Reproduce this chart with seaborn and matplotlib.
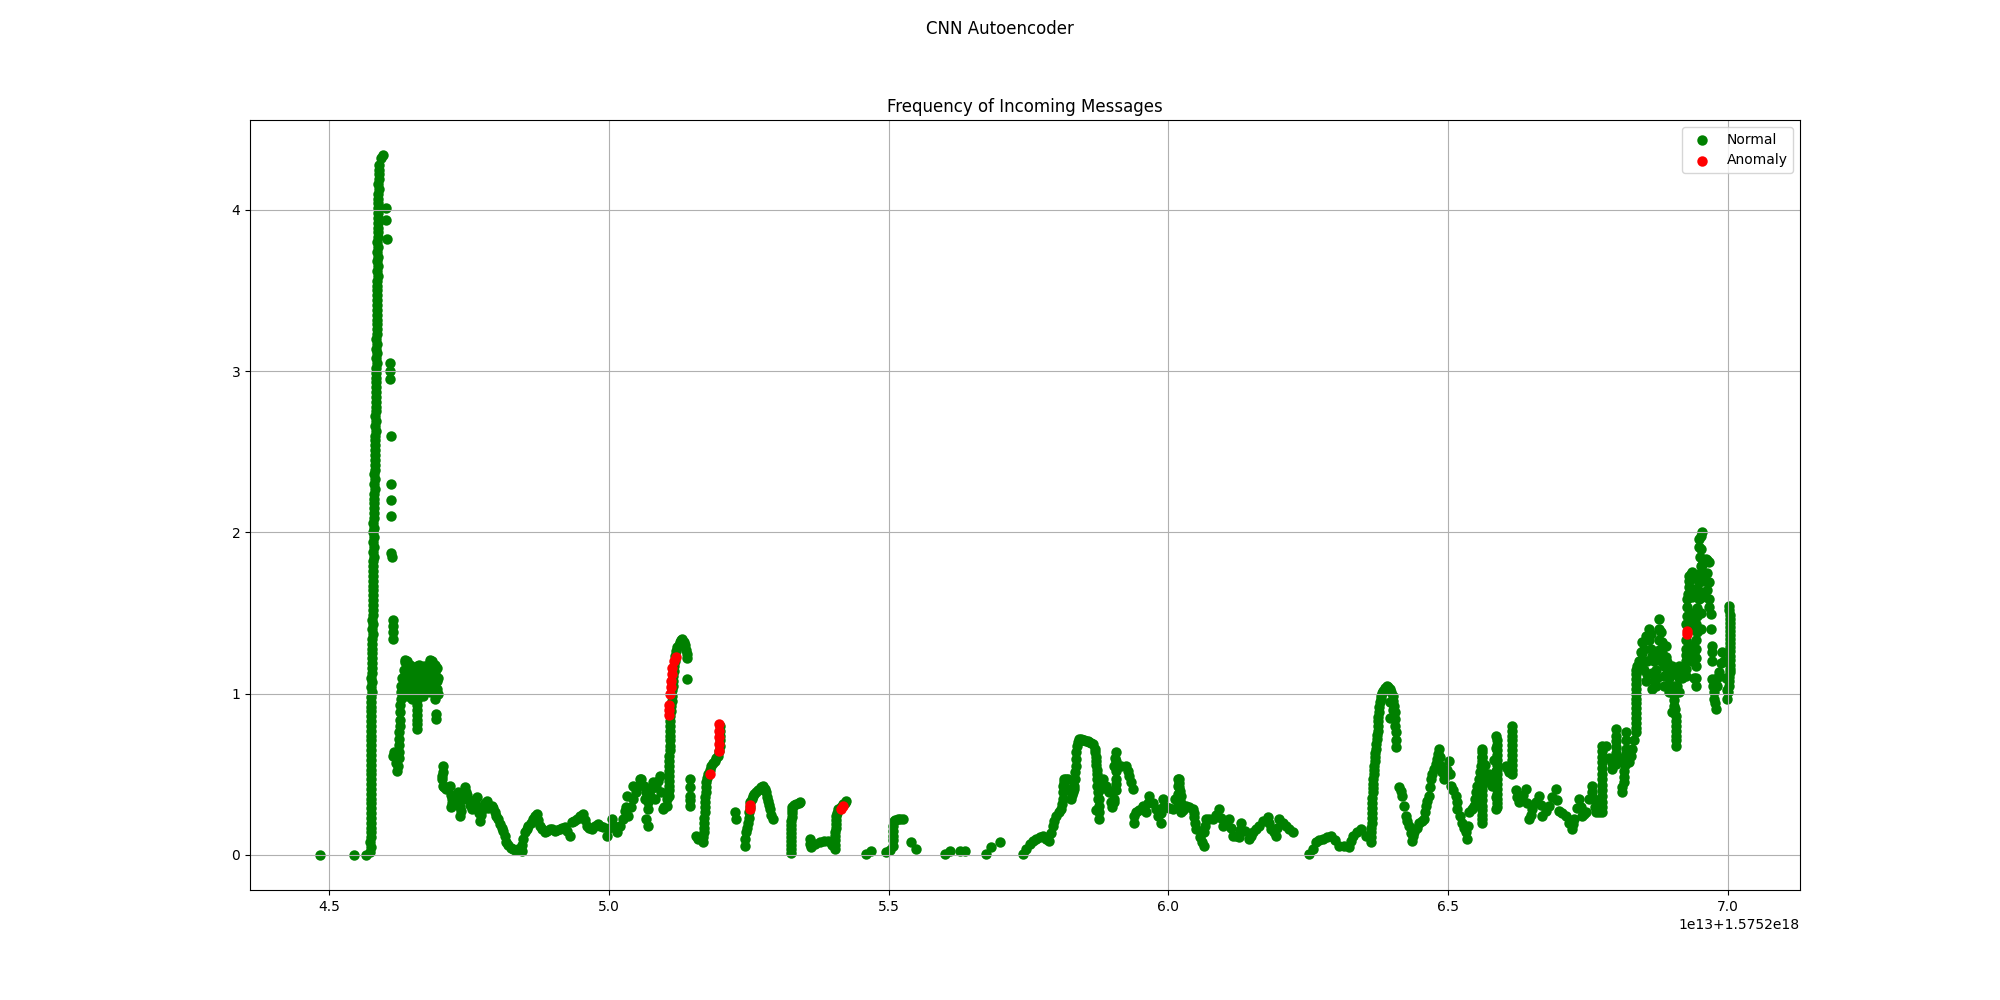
import matplotlib
matplotlib.use("Agg")
import matplotlib.pyplot as plt
import numpy as np
import seaborn as sns

# timestamps are stored as offsets: t = T0 + x * T_SCALE
T0 = 1.5752e18
T_SCALE = 1e13

# main burst around 4.58
spike_x = [4.5738, 4.5739, 4.5740, 4.5740, 4.5741, 4.5742, 4.5742, 4.5743, 4.5744, 4.5744,
           4.5745, 4.5746, 4.5746, 4.5747, 4.5747, 4.5748, 4.5748, 4.5752, 4.5756, 4.5760,
           4.5763, 4.5766, 4.5769, 4.5772, 4.5775, 4.5777, 4.5779, 4.5781, 4.5783, 4.5785,
           4.5786, 4.5788, 4.5789, 4.5790, 4.5793, 4.5796, 4.5799, 4.5802, 4.5805, 4.5808,
           4.5811, 4.5814, 4.5817, 4.5820, 4.5823, 4.5826, 4.5829, 4.5832, 4.5835, 4.5837,
           4.5839, 4.5841, 4.5843, 4.5845, 4.5847, 4.5849, 4.5851, 4.5853, 4.5855, 4.5857,
           4.5859, 4.5861, 4.5862, 4.5864, 4.5865, 4.5867, 4.5868, 4.5870, 4.5874, 4.5878,
           4.5884, 4.5892, 4.5930, 4.5970]
spike_y = [0.02, 0.08, 0.14, 0.20, 0.26, 0.32, 0.38, 0.44, 0.50, 0.56,
           0.62, 0.68, 0.74, 0.80, 0.86, 0.92, 0.98, 1.04, 1.10, 1.16,
           1.22, 1.28, 1.34, 1.40, 1.46, 1.52, 1.58, 1.64, 1.70, 1.76,
           1.82, 1.88, 1.94, 2.00, 2.06, 2.12, 2.18, 2.24, 2.30, 2.36,
           2.42, 2.48, 2.54, 2.60, 2.66, 2.72, 2.78, 2.84, 2.90, 2.96,
           3.02, 3.08, 3.14, 3.20, 3.26, 3.32, 3.38, 3.44, 3.50, 3.56,
           3.62, 3.68, 3.74, 3.80, 3.86, 3.92, 3.98, 4.04, 4.10, 4.16,
           4.22, 4.28, 4.32, 4.34]

# second column of the same burst (slightly later timestamps)
spike2_pts = [
    (4.5746, 0.05), (4.5747, 0.11), (4.5748, 0.17), (4.5748, 0.23), (4.5749, 0.29),
    (4.5750, 0.35), (4.5750, 0.41), (4.5751, 0.47), (4.5752, 0.53), (4.5752, 0.59),
    (4.5753, 0.65), (4.5754, 0.71), (4.5754, 0.77), (4.5755, 0.83), (4.5755, 0.89),
    (4.5756, 0.95), (4.5758, 1.01), (4.5762, 1.07), (4.5766, 1.13), (4.5769, 1.19),
    (4.5772, 1.25), (4.5775, 1.31), (4.5778, 1.37), (4.5781, 1.43), (4.5784, 1.49),
    (4.5786, 1.55), (4.5788, 1.61), (4.5790, 1.67), (4.5792, 1.73), (4.5793, 1.79),
    (4.5795, 1.85), (4.5796, 1.91), (4.5798, 1.97), (4.5800, 2.03), (4.5803, 2.09),
    (4.5806, 2.15), (4.5809, 2.21), (4.5812, 2.27), (4.5815, 2.33), (4.5818, 2.39),
    (4.5821, 2.45), (4.5824, 2.51), (4.5827, 2.57), (4.5830, 2.63), (4.5833, 2.69),
    (4.5836, 2.75), (4.5839, 2.81), (4.5842, 2.87), (4.5844, 2.93), (4.5846, 2.99),
    (4.5848, 3.05), (4.5850, 3.11), (4.5852, 3.17), (4.5854, 3.23), (4.5856, 3.29),
    (4.5858, 3.35), (4.5860, 3.41), (4.5862, 3.47), (4.5864, 3.53), (4.5866, 3.59),
    (4.5868, 3.65), (4.5869, 3.71), (4.5871, 3.77), (4.5872, 3.83), (4.5874, 3.89),
    (4.5875, 3.95), (4.5877, 4.01), (4.5880, 4.07), (4.5884, 4.13), (4.5888, 4.19),
    (4.5893, 4.25),
]

# (x, frequency) pairs for the normal windows
early_pts = [
    (4.4845, 0.00), (4.5452, 0.00), (4.5660, 0.00),
    (4.6020, 4.01), (4.6020, 3.94), (4.6030, 3.82), (4.6080, 3.05), (4.6080, 3.00),
    (4.6080, 2.95), (4.6100, 2.60), (4.6110, 2.30), (4.6110, 2.20), (4.6110, 2.10),
    (4.6110, 1.87), (4.6120, 1.85), (4.6140, 1.46), (4.6140, 1.42), (4.6140, 1.38),
    (4.6140, 1.34),
]

burst_pts = [
    (4.6150, 0.616), (4.6220, 0.523), (4.6238, 0.554), (4.6244, 0.600), (4.6244, 0.636),
    (4.6250, 0.680), (4.6250, 0.719), (4.6256, 0.760), (4.6262, 0.800), (4.6268, 0.840),
    (4.6268, 0.884), (4.6274, 0.930), (4.6280, 0.967), (4.6292, 1.010), (4.6292, 1.050),
    (4.6310, 1.100), (4.6330, 1.150), (4.6357, 1.194), (4.6357, 1.091), (4.6387, 0.988),
    (4.6387, 1.040), (4.6417, 1.174), (4.6446, 1.132), (4.6476, 0.967), (4.6506, 1.050),
    (4.6536, 1.100), (4.6565, 1.174), (4.6595, 1.020), (4.6625, 1.091), (4.6655, 1.163),
    (4.6685, 0.988), (4.6685, 1.050), (4.6714, 1.120), (4.6744, 1.132), (4.6774, 1.060),
    (4.6804, 1.194), (4.6804, 1.010), (4.6833, 1.050), (4.6863, 1.100), (4.6893, 1.132),
    (4.6923, 1.030), (4.6923, 1.080), (4.6923, 1.160), (4.6357, 1.210), (4.6804, 1.210),
    (4.6565, 0.990), (4.6565, 0.930), (4.6571, 0.870), (4.6577, 0.810), (4.6577, 0.780),
    (4.6893, 0.967), (4.6905, 0.874), (4.6911, 0.843),
    (4.6330, 1.000), (4.6330, 1.050), (4.6360, 1.140), (4.6390, 1.200), (4.6400, 1.100),
    (4.6420, 1.020), (4.6450, 1.070), (4.6450, 1.180), (4.6480, 1.120), (4.6500, 1.000),
    (4.6520, 1.160), (4.6540, 1.060), (4.6560, 1.120), (4.6590, 1.070), (4.6600, 1.180),
    (4.6630, 1.030), (4.6640, 1.130), (4.6670, 1.090), (4.6690, 1.170), (4.6710, 1.030),
    (4.6730, 1.080), (4.6760, 1.160), (4.6780, 1.110), (4.6800, 1.050), (4.6820, 1.140),
    (4.6840, 1.200), (4.6860, 1.040), (4.6880, 1.080), (4.6900, 1.180), (4.6940, 1.100),
    (4.6940, 1.000), (4.6565, 0.960), (4.6568, 0.900), (4.6574, 0.840), (4.6190, 0.570),
    (4.6165, 0.640),
    (4.7030, 0.554), (4.7030, 0.512), (4.7018, 0.471), (4.7036, 0.430), (4.7095, 0.410),
    (4.7155, 0.430), (4.7185, 0.296), (4.7196, 0.347), (4.7226, 0.347), (4.7304, 0.388),
    (4.7339, 0.244), (4.7339, 0.300), (4.7429, 0.420), (4.7458, 0.370), (4.7488, 0.347),
    (4.7548, 0.285), (4.7637, 0.357), (4.7667, 0.300), (4.7696, 0.213), (4.7756, 0.306),
    (4.7815, 0.337), (4.7845, 0.290), (4.7905, 0.306), (4.7964, 0.264), (4.8024, 0.223),
    (4.8113, 0.151), (4.8161, 0.079), (4.8292, 0.037), (4.8351, 0.030), (4.8381, 0.037),
    (4.8440, 0.027),
    (4.7024, 0.490), (4.7050, 0.420), (4.7125, 0.420), (4.7170, 0.370), (4.7190, 0.320),
    (4.7250, 0.360), (4.7280, 0.370), (4.7320, 0.320), (4.7360, 0.270), (4.7400, 0.350),
    (4.7440, 0.390), (4.7520, 0.310), (4.7590, 0.320), (4.7610, 0.340), (4.7680, 0.260),
    (4.7720, 0.250), (4.7740, 0.280), (4.7790, 0.320), (4.7870, 0.300), (4.7930, 0.290),
    (4.7990, 0.240), (4.8060, 0.190), (4.8090, 0.170), (4.8135, 0.120), (4.8200, 0.060),
    (4.8250, 0.045), (4.8320, 0.032), (4.8410, 0.030), (4.8455, 0.060),
    (4.8470, 0.100), (4.8500, 0.140), (4.8560, 0.182), (4.8649, 0.223), (4.8708, 0.254),
    (4.8768, 0.182), (4.8857, 0.140), (4.8946, 0.161), (4.9036, 0.151), (4.9125, 0.161),
    (4.9214, 0.172), (4.9304, 0.120), (4.9333, 0.203), (4.9423, 0.223), (4.9542, 0.254),
    (4.9601, 0.182), (4.9690, 0.161), (4.9810, 0.192), (4.9899, 0.172), (4.9958, 0.120),
    (5.0048, 0.223), (5.0137, 0.140), (5.0256, 0.223), (5.0315, 0.300), (5.0321, 0.368),
    (5.0345, 0.244), (5.0435, 0.347), (5.0435, 0.430), (5.0524, 0.430), (5.0554, 0.470),
    (5.0583, 0.471), (5.0672, 0.388), (5.0672, 0.223), (5.0702, 0.285), (5.0702, 0.182),
    (5.0732, 0.368), (5.0792, 0.450), (5.0821, 0.347), (5.0911, 0.492), (5.0940, 0.388),
    (5.0970, 0.285), (5.1030, 0.306), (5.1060, 0.388),
    (4.8530, 0.160), (4.8600, 0.200), (4.8680, 0.240), (4.8730, 0.220), (4.8800, 0.160),
    (4.8900, 0.150), (4.8990, 0.160), (4.9080, 0.155), (4.9170, 0.165), (4.9260, 0.150),
    (4.9370, 0.210), (4.9480, 0.240), (4.9570, 0.220), (4.9650, 0.170), (4.9750, 0.180),
    (4.9850, 0.180), (5.0000, 0.170), (5.0090, 0.180), (5.0200, 0.180), (5.0290, 0.270),
    (5.0390, 0.300), (5.0480, 0.390), (5.0620, 0.430), (5.0640, 0.350), (5.0700, 0.330),
    (5.0760, 0.410), (5.0850, 0.420), (5.0880, 0.460), (5.0990, 0.300), (5.1040, 0.350),
]

mid_pts = [
    (5.1077, 0.368), (5.1077, 0.430), (5.1077, 0.492), (5.1083, 0.554), (5.1083, 0.616),
    (5.1089, 0.678), (5.1089, 0.740), (5.1095, 0.800), (5.1101, 0.864), (5.1119, 0.926),
    (5.1131, 0.988), (5.1143, 1.050), (5.1155, 1.112), (5.1167, 1.174), (5.1185, 1.236),
    (5.1220, 1.287), (5.1268, 1.318), (5.1315, 1.339), (5.1357, 1.300), (5.1399, 1.246),
    (5.1399, 1.091),
    (5.1077, 0.400), (5.1077, 0.460), (5.1080, 0.520), (5.1083, 0.585), (5.1086, 0.650),
    (5.1089, 0.710), (5.1092, 0.770), (5.1098, 0.830), (5.1110, 0.895), (5.1125, 0.957),
    (5.1137, 1.020), (5.1149, 1.080), (5.1161, 1.143), (5.1176, 1.205), (5.1200, 1.262),
    (5.1245, 1.305), (5.1290, 1.330), (5.1340, 1.320), (5.1380, 1.270), (5.1399, 1.220),
    (5.1446, 0.471), (5.1458, 0.368), (5.1446, 0.306), (5.1450, 0.420), (5.1452, 0.340),
    (5.1565, 0.120), (5.1685, 0.079), (5.1697, 0.140), (5.1702, 0.200), (5.1714, 0.264),
    (5.1720, 0.326), (5.1732, 0.388), (5.1744, 0.450), (5.1774, 0.500), (5.1833, 0.554),
    (5.1893, 0.585), (5.1952, 0.616), (5.1994, 0.678), (5.1994, 0.740), (5.1982, 0.800),
    (5.1600, 0.100), (5.1690, 0.110), (5.1700, 0.170), (5.1708, 0.230), (5.1717, 0.295),
    (5.1726, 0.357), (5.1738, 0.420), (5.1760, 0.475), (5.1800, 0.530), (5.1860, 0.570),
    (5.1920, 0.600), (5.1975, 0.647), (5.1994, 0.710), (5.1990, 0.770),
    (5.2250, 0.264), (5.2280, 0.223),
    (5.2429, 0.058), (5.2458, 0.140), (5.2488, 0.200), (5.2506, 0.264), (5.2530, 0.326),
    (5.2577, 0.368), (5.2637, 0.388), (5.2696, 0.410), (5.2756, 0.430), (5.2815, 0.388),
    (5.2845, 0.337), (5.2875, 0.285), (5.2934, 0.223),
    (5.2440, 0.100), (5.2470, 0.170), (5.2497, 0.232), (5.2518, 0.295), (5.2550, 0.350),
    (5.2600, 0.378), (5.2666, 0.400), (5.2726, 0.420), (5.2785, 0.410), (5.2830, 0.360),
    (5.2860, 0.310), (5.2905, 0.250),
    (5.3262, 0.010), (5.3262, 0.060), (5.3262, 0.110), (5.3262, 0.160), (5.3262, 0.210),
    (5.3268, 0.260), (5.3274, 0.300), (5.3351, 0.316), (5.3422, 0.330),
    (5.3262, 0.035), (5.3262, 0.085), (5.3262, 0.135), (5.3262, 0.185), (5.3265, 0.235),
    (5.3271, 0.280), (5.3310, 0.310), (5.3390, 0.325),
    (5.3589, 0.100), (5.3619, 0.048), (5.3768, 0.079), (5.3917, 0.089), (5.4036, 0.037),
    (5.4042, 0.090), (5.4048, 0.140), (5.4054, 0.190), (5.4066, 0.240), (5.4095, 0.285),
    (5.4185, 0.316), (5.4244, 0.337),
    (5.3600, 0.070), (5.3690, 0.070), (5.3840, 0.085), (5.3980, 0.060), (5.4039, 0.065),
    (5.4045, 0.115), (5.4051, 0.165), (5.4060, 0.215), (5.4080, 0.262), (5.4140, 0.300),
    (5.4215, 0.325),
    (5.4601, 0.006), (5.4690, 0.027),
    (5.4958, 0.017), (5.5077, 0.058), (5.5077, 0.120), (5.5077, 0.182), (5.5089, 0.213),
    (5.5167, 0.223), (5.5256, 0.223), (5.5405, 0.079), (5.5494, 0.037),
    (5.5020, 0.030), (5.5077, 0.090), (5.5077, 0.150), (5.5120, 0.220), (5.5210, 0.223),
    (5.5999, 0.006), (5.6089, 0.027), (5.6268, 0.027), (5.6357, 0.027),
    (5.6744, 0.006), (5.6833, 0.048), (5.6982, 0.079),
    (5.7399, 0.006), (5.7518, 0.068), (5.7637, 0.100), (5.7756, 0.120), (5.7875, 0.089),
    (5.7934, 0.182), (5.7994, 0.244), (5.8083, 0.285), (5.8113, 0.347), (5.8113, 0.430),
    (5.8143, 0.471), (5.8202, 0.471), (5.8262, 0.347), (5.8292, 0.388), (5.8321, 0.430),
    (5.8339, 0.512), (5.8351, 0.595), (5.8363, 0.678), (5.8411, 0.719), (5.8470, 0.715),
    (5.8530, 0.709), (5.8589, 0.700), (5.8649, 0.688), (5.8696, 0.636), (5.8708, 0.585),
    (5.8720, 0.530), (5.8720, 0.471), (5.8738, 0.388), (5.8756, 0.306), (5.8768, 0.223),
    (5.7460, 0.035), (5.7580, 0.085), (5.7700, 0.110), (5.7820, 0.100), (5.7905, 0.135),
    (5.7964, 0.213), (5.8040, 0.265), (5.8098, 0.316), (5.8113, 0.390), (5.8128, 0.450),
    (5.8170, 0.471), (5.8232, 0.410), (5.8277, 0.370), (5.8306, 0.410), (5.8330, 0.470),
    (5.8345, 0.553), (5.8357, 0.636), (5.8385, 0.700), (5.8440, 0.717), (5.8500, 0.712),
    (5.8560, 0.705), (5.8620, 0.694), (5.8680, 0.660), (5.8702, 0.610), (5.8714, 0.555),
    (5.8720, 0.500), (5.8729, 0.430), (5.8747, 0.347), (5.8762, 0.265),
    (5.8708, 0.280), (5.8768, 0.400), (5.8768, 0.350), (5.8827, 0.471), (5.8946, 0.388),
    (5.8976, 0.326), (5.9036, 0.554), (5.9036, 0.350), (5.9065, 0.637), (5.9065, 0.580),
    (5.9065, 0.520), (5.9065, 0.471), (5.9065, 0.400), (5.9244, 0.554), (5.9304, 0.492),
    (5.9363, 0.410), (5.9393, 0.200), (5.9423, 0.264), (5.9542, 0.306), (5.9601, 0.264),
    (5.9661, 0.368), (5.9780, 0.285), (5.9869, 0.200), (5.9869, 0.260), (5.9899, 0.347),
    (5.9899, 0.300), (6.0077, 0.285), (6.0167, 0.471), (6.0167, 0.430), (6.0167, 0.380),
    (6.0167, 0.330), (6.0196, 0.290),
    (5.8880, 0.430), (5.8920, 0.400), (5.8990, 0.300), (5.9020, 0.330), (5.9050, 0.600),
    (5.9065, 0.440), (5.9150, 0.550), (5.9274, 0.520), (5.9334, 0.450), (5.9380, 0.240),
    (5.9470, 0.280), (5.9572, 0.285), (5.9631, 0.320), (5.9720, 0.320), (5.9820, 0.240),
    (5.9950, 0.300), (6.0020, 0.290), (6.0120, 0.350),
]

late_pts = [
    (6.0196, 0.471), (6.0196, 0.420), (6.0226, 0.368), (6.0226, 0.264), (6.0315, 0.306),
    (6.0434, 0.285), (6.0464, 0.234), (6.0494, 0.161), (6.0643, 0.058), (6.0643, 0.140),
    (6.0673, 0.223), (6.0792, 0.223), (6.0911, 0.285), (6.0970, 0.180), (6.1089, 0.223),
    (6.1149, 0.120), (6.1268, 0.110), (6.1298, 0.200), (6.1446, 0.100), (6.1506, 0.140),
    (6.1625, 0.180), (6.1774, 0.234), (6.1833, 0.160), (6.1923, 0.120), (6.1982, 0.223),
    (6.2101, 0.180), (6.2220, 0.140),
    (6.0196, 0.445), (6.0211, 0.395), (6.0226, 0.320), (6.0260, 0.280), (6.0370, 0.300),
    (6.0450, 0.260), (6.0480, 0.200), (6.0560, 0.110), (6.0600, 0.080), (6.0658, 0.180),
    (6.0730, 0.223), (6.0850, 0.250), (6.0940, 0.230), (6.1030, 0.200), (6.1120, 0.170),
    (6.1200, 0.115), (6.1283, 0.155), (6.1370, 0.150), (6.1476, 0.120), (6.1566, 0.160),
    (6.1700, 0.210), (6.1800, 0.200), (6.1880, 0.140), (6.1950, 0.170), (6.2040, 0.200),
    (6.2160, 0.160),
    (6.2518, 0.006), (6.2637, 0.079), (6.2756, 0.100), (6.2905, 0.120), (6.3053, 0.058),
    (6.3232, 0.048), (6.3292, 0.120), (6.3440, 0.161), (6.3619, 0.079),
    (6.2578, 0.040), (6.2700, 0.090), (6.2830, 0.110), (6.2980, 0.090), (6.3140, 0.053),
    (6.3262, 0.085), (6.3366, 0.140), (6.3530, 0.120),
    (6.3619, 0.140), (6.3631, 0.200), (6.3637, 0.260), (6.3643, 0.320), (6.3649, 0.388),
    (6.3661, 0.440), (6.3667, 0.500), (6.3679, 0.554), (6.3697, 0.610), (6.3708, 0.660),
    (6.3720, 0.719), (6.3738, 0.770), (6.3750, 0.830), (6.3756, 0.884), (6.3780, 0.946),
    (6.3803, 0.988), (6.3839, 1.019), (6.3899, 1.050), (6.3958, 1.030), (6.4006, 0.988),
    (6.4036, 0.926), (6.4053, 0.843), (6.4065, 0.760), (6.4077, 0.667), (6.3958, 0.950),
    (6.4006, 0.900), (6.3958, 0.850),
    (6.3619, 0.110), (6.3625, 0.170), (6.3634, 0.230), (6.3640, 0.290), (6.3646, 0.354),
    (6.3655, 0.414), (6.3664, 0.470), (6.3673, 0.527), (6.3688, 0.582), (6.3702, 0.635),
    (6.3714, 0.690), (6.3729, 0.745), (6.3744, 0.800), (6.3753, 0.857), (6.3768, 0.915),
    (6.3792, 0.967), (6.3820, 1.003), (6.3869, 1.035), (6.3928, 1.040), (6.3982, 1.010),
    (6.4021, 0.957), (6.4045, 0.885), (6.4059, 0.800), (6.4071, 0.713),
    (6.4125, 0.420), (6.4184, 0.368), (6.4244, 0.244), (6.4303, 0.180), (6.4363, 0.089),
    (6.4393, 0.140), (6.4482, 0.200), (6.4571, 0.223), (6.4601, 0.306), (6.4661, 0.368),
    (6.4690, 0.471), (6.4750, 0.533), (6.4809, 0.595), (6.4839, 0.657), (6.4869, 0.554),
    (6.4928, 0.471), (6.5018, 0.580), (6.5047, 0.430), (6.5137, 0.368), (6.5166, 0.285),
    (6.5256, 0.200), (6.5315, 0.140), (6.5345, 0.099), (6.5375, 0.264), (6.5464, 0.306),
    (6.5494, 0.388), (6.5553, 0.471), (6.5583, 0.554), (6.5613, 0.657), (6.5702, 0.471),
    (6.5791, 0.430), (6.5851, 0.740), (6.5851, 0.595), (6.5851, 0.285),
    (6.4155, 0.394), (6.4214, 0.306), (6.4274, 0.212), (6.4333, 0.135), (6.4378, 0.115),
    (6.4437, 0.170), (6.4527, 0.210), (6.4586, 0.265), (6.4631, 0.337), (6.4675, 0.420),
    (6.4720, 0.500), (6.4780, 0.564), (6.4824, 0.626), (6.4854, 0.605), (6.4898, 0.512),
    (6.4973, 0.525), (6.5032, 0.505), (6.5092, 0.400), (6.5152, 0.326), (6.5211, 0.243),
    (6.5285, 0.170), (6.5360, 0.180), (6.5420, 0.285), (6.5479, 0.347), (6.5524, 0.430),
    (6.5568, 0.512), (6.5598, 0.605), (6.5658, 0.560), (6.5746, 0.450), (6.5821, 0.590),
    (6.5851, 0.665), (6.5851, 0.520), (6.5851, 0.440), (6.5851, 0.360),
]

end_pts = [
    (6.5613, 0.610), (6.5613, 0.554), (6.5613, 0.490), (6.5613, 0.430), (6.5613, 0.370),
    (6.5613, 0.306), (6.5613, 0.250), (6.5613, 0.200), (6.5673, 0.500), (6.5732, 0.500),
    (6.5613, 0.640), (6.5613, 0.580), (6.5613, 0.520), (6.5613, 0.460), (6.5613, 0.400),
    (6.5613, 0.340), (6.5613, 0.280), (6.5613, 0.225),
    (6.5881, 0.680), (6.5881, 0.620), (6.5881, 0.560), (6.5881, 0.500), (6.5881, 0.440),
    (6.5881, 0.380), (6.5881, 0.320), (6.6030, 0.554), (6.6089, 0.512),
    (6.5881, 0.710), (6.5881, 0.650), (6.5881, 0.590), (6.5881, 0.530), (6.5881, 0.470),
    (6.5881, 0.410), (6.5881, 0.350), (6.5881, 0.300),
    (6.6149, 0.800), (6.6149, 0.740), (6.6149, 0.680), (6.6149, 0.620), (6.6149, 0.560),
    (6.6149, 0.500), (6.6149, 0.770), (6.6149, 0.710), (6.6149, 0.650), (6.6149, 0.590),
    (6.6149, 0.530), (6.6090, 0.530), (6.6060, 0.540),
    (6.6268, 0.326), (6.6387, 0.409), (6.6447, 0.223), (6.6506, 0.285), (6.6625, 0.368),
    (6.6685, 0.244), (6.6804, 0.306), (6.6923, 0.409), (6.6982, 0.275), (6.7101, 0.244),
    (6.7220, 0.161), (6.7250, 0.223), (6.7339, 0.347), (6.7399, 0.244), (6.7458, 0.265),
    (6.7577, 0.430), (6.7607, 0.347), (6.7637, 0.265),
    (6.6208, 0.400), (6.6240, 0.360), (6.6330, 0.370), (6.6417, 0.320), (6.6476, 0.250),
    (6.6566, 0.330), (6.6655, 0.310), (6.6745, 0.275), (6.6863, 0.360), (6.6952, 0.340),
    (6.7040, 0.260), (6.7160, 0.200), (6.7235, 0.190), (6.7295, 0.290), (6.7369, 0.300),
    (6.7428, 0.255), (6.7520, 0.350), (6.7577, 0.390), (6.7620, 0.300), (6.7700, 0.265),
    (6.7756, 0.265), (6.7756, 0.330), (6.7756, 0.400), (6.7756, 0.470), (6.7756, 0.540),
    (6.7756, 0.610), (6.7756, 0.678), (6.7816, 0.678), (6.7935, 0.533),
    (6.7756, 0.300), (6.7756, 0.365), (6.7756, 0.435), (6.7756, 0.505), (6.7756, 0.575),
    (6.7756, 0.645),
    (6.7994, 0.600), (6.7994, 0.670), (6.7994, 0.740), (6.7994, 0.781),
    (6.7875, 0.600), (6.7935, 0.570), (6.7994, 0.565), (6.7994, 0.635), (6.7994, 0.705),
    (6.8053, 0.600),
    (6.8113, 0.388), (6.8143, 0.450), (6.8143, 0.520), (6.8173, 0.590), (6.8173, 0.660),
    (6.8173, 0.760), (6.8232, 0.574), (6.8292, 0.657),
    (6.8113, 0.420), (6.8143, 0.485), (6.8158, 0.555), (6.8173, 0.625), (6.8173, 0.710),
    (6.8203, 0.620), (6.8262, 0.615), (6.8322, 0.710),
    (6.8351, 0.760), (6.8351, 0.820), (6.8351, 0.880), (6.8351, 0.940), (6.8351, 1.000),
    (6.8351, 1.060), (6.8351, 1.120), (6.8381, 1.174),
    (6.8351, 0.790), (6.8351, 0.850), (6.8351, 0.910), (6.8351, 0.970), (6.8351, 1.030),
    (6.8351, 1.090), (6.8366, 1.150),
    (6.8470, 1.318), (6.8470, 1.250), (6.8500, 1.150), (6.8530, 1.080), (6.8589, 1.401),
    (6.8589, 1.330), (6.8649, 1.236), (6.8649, 1.029), (6.8708, 1.050), (6.8708, 1.150),
    (6.8768, 1.463), (6.8768, 1.400), (6.8768, 1.330), (6.8827, 1.318), (6.8857, 1.174),
    (6.8887, 1.298), (6.8917, 1.194), (6.8946, 1.008), (6.8946, 1.100),
    (6.8410, 1.200), (6.8440, 1.260), (6.8470, 1.200), (6.8500, 1.280), (6.8530, 1.360),
    (6.8560, 1.200), (6.8560, 1.120), (6.8619, 1.280), (6.8619, 1.370), (6.8649, 1.130),
    (6.8679, 1.200), (6.8679, 1.080), (6.8738, 1.230), (6.8738, 1.100), (6.8768, 1.270),
    (6.8797, 1.380), (6.8797, 1.200), (6.8827, 1.250), (6.8857, 1.110), (6.8857, 1.050),
    (6.8887, 1.230), (6.8917, 1.130), (6.8917, 1.050), (6.8946, 1.050),
    (6.9006, 1.174), (6.9035, 1.050), (6.9035, 0.990), (6.9035, 0.926), (6.9006, 0.884),
    (6.9065, 0.860), (6.9065, 0.800), (6.9065, 0.740), (6.9065, 0.678),
    (6.9020, 1.120), (6.9035, 1.020), (6.9035, 0.960), (6.9050, 0.905), (6.9065, 0.830),
    (6.9065, 0.770), (6.9065, 0.710),
    (6.9125, 1.174), (6.9125, 1.008), (6.9125, 1.100), (6.9244, 1.112), (6.9244, 1.200),
    (6.9244, 1.277), (6.9274, 1.484), (6.9274, 1.587), (6.9304, 1.660), (6.9304, 1.732),
    (6.9363, 1.752), (6.9423, 1.050), (6.9452, 1.711),
    (6.9095, 1.050), (6.9125, 1.140), (6.9185, 1.100), (6.9185, 1.160), (6.9244, 1.155),
    (6.9244, 1.240), (6.9259, 1.330), (6.9259, 1.430), (6.9274, 1.535), (6.9289, 1.620),
    (6.9304, 1.700), (6.9333, 1.740), (6.9333, 1.500), (6.9333, 1.300), (6.9363, 1.600),
    (6.9363, 1.400), (6.9363, 1.200), (6.9393, 1.650), (6.9393, 1.450), (6.9393, 1.250),
    (6.9393, 1.100), (6.9423, 1.220), (6.9437, 1.330), (6.9437, 1.430), (6.9452, 1.530),
    (6.9467, 1.640), (6.9482, 1.740), (6.9497, 1.850), (6.9482, 1.910), (6.9512, 1.980),
    (6.9527, 1.900), (6.9542, 1.800), (6.9542, 1.700), (6.9542, 1.600), (6.9512, 1.500),
    (6.9512, 1.400), (6.9572, 1.820), (6.9631, 1.830), (6.9631, 1.750), (6.9631, 1.640),
    (6.9661, 1.540), (6.9601, 1.700),
    (6.9482, 1.959), (6.9542, 2.000), (6.9512, 1.794), (6.9482, 1.690), (6.9482, 1.587),
    (6.9452, 1.480), (6.9452, 1.380), (6.9423, 1.280), (6.9423, 1.174), (6.9423, 1.100),
    (6.9601, 1.835), (6.9661, 1.814), (6.9661, 1.690), (6.9661, 1.587), (6.9690, 1.494),
    (6.9720, 1.298), (6.9720, 1.256), (6.9720, 1.091), (6.9750, 1.008), (6.9780, 0.905),
    (6.9750, 0.967),
    (6.9705, 1.400), (6.9720, 1.200), (6.9735, 1.050), (6.9765, 0.940), (6.9810, 1.100),
    (6.9869, 1.190), (6.9929, 1.200), (6.9958, 1.100), (6.9988, 1.020),
    (7.0018, 1.546), (7.0030, 1.490), (7.0030, 1.440), (7.0030, 1.390), (7.0030, 1.340),
    (7.0030, 1.290), (7.0030, 1.236), (7.0030, 1.180), (7.0030, 1.132), (7.0018, 1.080),
    (7.0018, 1.050), (6.9988, 0.967), (6.9899, 1.256), (6.9839, 1.132), (6.9810, 1.050),
    (7.0024, 1.520), (7.0030, 1.465), (7.0030, 1.415), (7.0030, 1.365), (7.0030, 1.315),
    (7.0030, 1.263), (7.0030, 1.208), (7.0030, 1.156), (7.0024, 1.105), (7.0010, 1.010),
]

anomaly_pts = [
    (5.1079, 0.870), (5.1079, 0.900), (5.1083, 0.930), (5.1101, 1.000), (5.1110, 1.040),
    (5.1113, 1.080), (5.1125, 1.120), (5.1137, 1.160), (5.1160, 1.200), (5.1196, 1.225),
    (5.1804, 0.502), (5.1970, 0.647), (5.1970, 0.688), (5.1970, 0.730), (5.1970, 0.770),
    (5.1970, 0.812),
    (5.2530, 0.285), (5.2530, 0.310),
    (5.4155, 0.285), (5.4185, 0.306),
    (6.9274, 1.370), (6.9274, 1.390),
]


def to_time(xs):
    return T0 + np.asarray(xs, dtype=float) * T_SCALE


pairs = spike2_pts + early_pts + burst_pts + mid_pts + late_pts + end_pts
normal_x = list(spike_x) + [p[0] for p in pairs]
normal_y = list(spike_y) + [p[1] for p in pairs]
anomaly_x = [p[0] for p in anomaly_pts]
anomaly_y = [p[1] for p in anomaly_pts]

fig, ax = plt.subplots(figsize=(20, 10), dpi=100)
sns.scatterplot(x=to_time(normal_x), y=normal_y, color="green", edgecolor="green",
                linewidth=1.5, s=36, label="Normal", ax=ax)
sns.scatterplot(x=to_time(anomaly_x), y=anomaly_y, color="red", edgecolor="red",
                linewidth=1.5, s=36, label="Anomaly", ax=ax)

ax.set_title("Frequency of Incoming Messages")
fig.suptitle("CNN Autoencoder")
ax.grid(True)
ax.legend(loc="upper right")

fig.savefig("out.png")
